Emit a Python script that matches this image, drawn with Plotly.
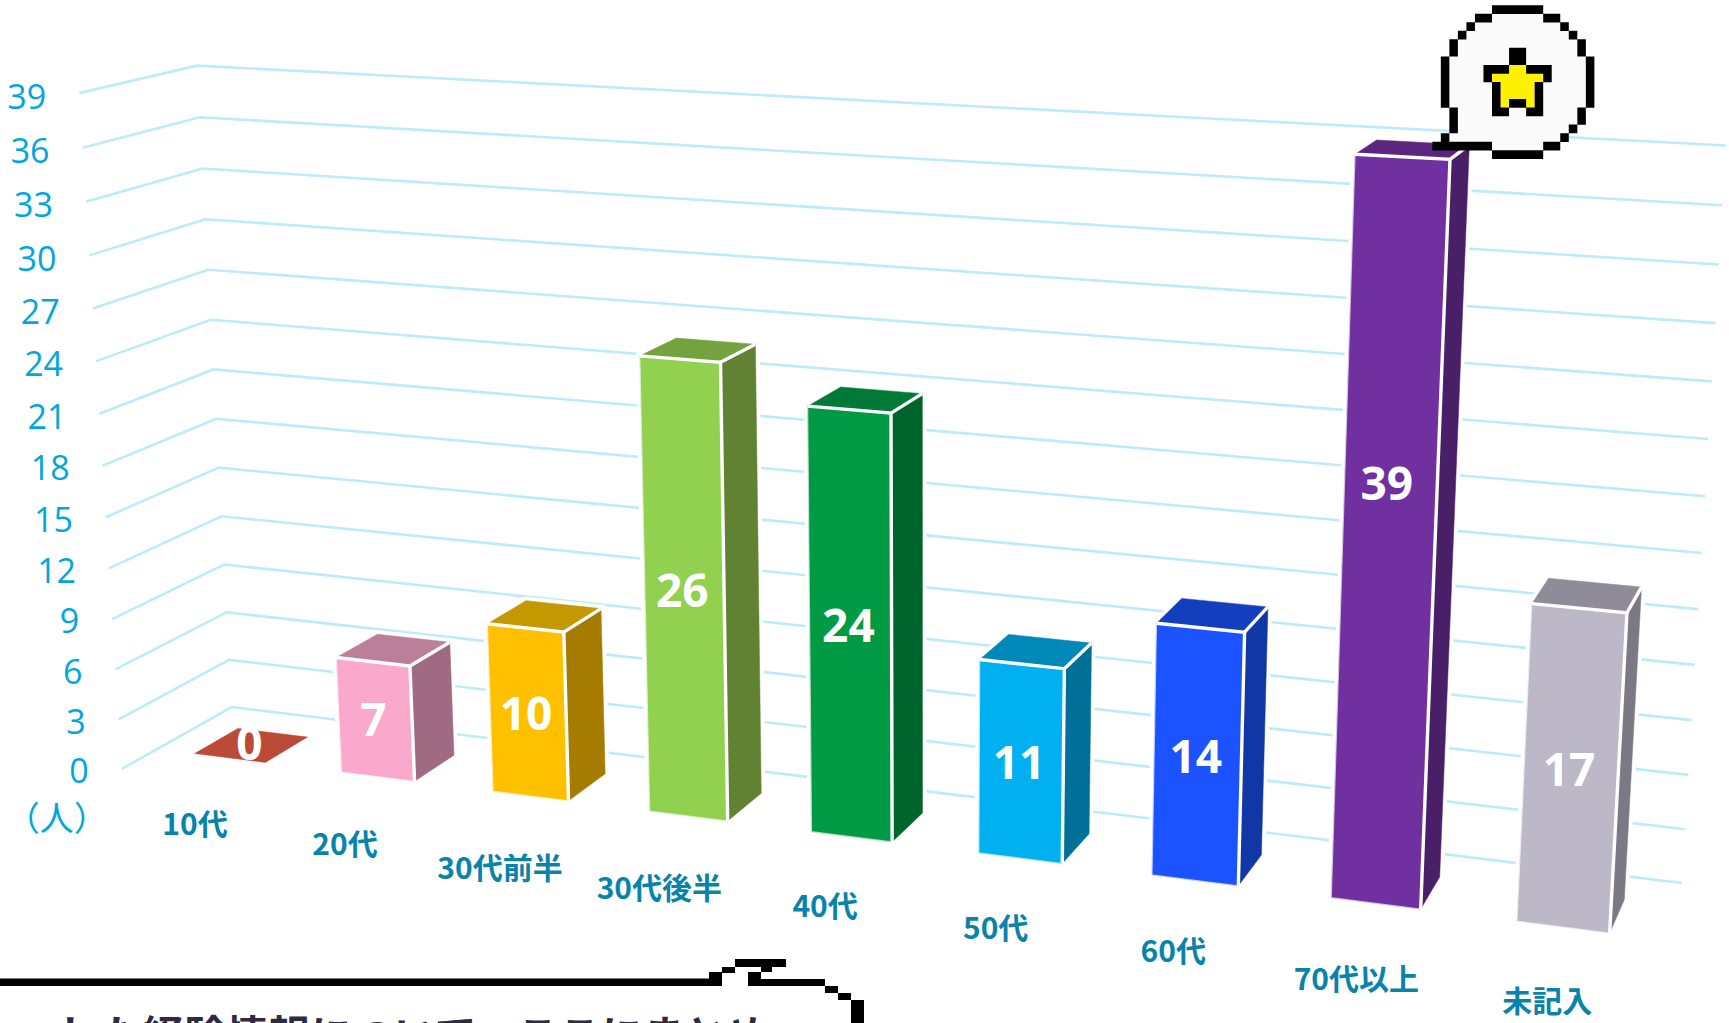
import plotly.graph_objects as go

# ---------- data ----------
categories = ["10代", "20代", "30代前半", "30代後半", "40代", "50代", "60代", "70代以上", "未記入"]
values = [0, 7, 10, 26, 24, 11, 14, 39, 17]
z_ticks = list(range(0, 40, 3))
unit_label = "（人）"
front_colors = ["#BC4A38", "#FAA8CB", "#FFC000", "#92D050", "#009A44", "#00B0F0", "#1A53FF", "#7030A0", "#BDB8C8"]
top_colors = ["#BC4A38", "#BB7F9A", "#C49800", "#74A23E", "#007A36", "#0088B8", "#133FBF", "#5A2680", "#908B98"]
side_colors = ["#BC4A38", "#A06B82", "#A67C00", "#608232", "#00652C", "#007099", "#1136A6", "#491F68", "#7C7884"]
label_shift = [3, 6, 7, 5, 5, 7, 7, -51, 6]
cat_shift_x = [0, 0, 0, -1, -1, -2, -2, -3, -3]
cat_shift_y = [49, 50, 53, 53, 49, 49, 49, 53, 50]
Z_MAX = 39

# ---------- perspective of the 3-D chart box (pixel space of the page) ----------
W, H = 1729, 1023
ORIGIN = (231.7, 707.0)      # back corner of the floor
VP_X = (-9013.0, -415.0)     # vanishing point of the category direction
VP_Y = (2198.0, -401.0)      # vanishing point of the depth direction
VP_Z = (926.4, 13548.0)      # vanishing point of the vertical direction
LX, LY, LZ = -0.1356, -0.05298, -0.04757
BAR_W = 0.486                # bar width as share of a category
Y_FRONT, Y_BACK = 0.685, 0.285
TOP_INSET = 0.12             # bars stop just under their value on the wall scale


def proj(x, y, z):
    """x, y: box fractions; z: value on the vertical axis."""
    a, b, c = LX * x, LY * y, LZ * z / Z_MAX
    w = 1 + a + b + c
    return ((ORIGIN[0] + a * VP_X[0] + b * VP_Y[0] + c * VP_Z[0]) / w,
            (ORIGIN[1] + a * VP_X[1] + b * VP_Y[1] + c * VP_Z[1]) / w)


def poly(points):
    pts = [proj(*p) for p in points]
    return [p[0] for p in pts], [p[1] for p in pts]


fig = go.Figure()


def face(pts, color):
    xs, ys = poly(pts + pts[:1])
    fig.add_trace(go.Scatter(x=xs, y=ys, mode="lines", fill="toself", fillcolor=color,
                             line=dict(width=0.5, color=color), hoverinfo="skip"))


def edge(pts, color="#FFFFFF", width=3.0):
    xs, ys = poly(pts)
    fig.add_trace(go.Scatter(x=xs, y=ys, mode="lines", line=dict(color=color, width=width),
                             hoverinfo="skip"))


# ---------- gridlines on the back and side walls ----------
for z in z_ticks:
    edge([(1, 0, z), (0, 0, z), (0, 1, z)], color="#BDEBFC", width=2.6)

# ---------- bars ----------
n = len(categories)
for i, value in enumerate(values):
    xc = (i + 0.5) / n
    x0, x1 = xc - BAR_W / n / 2, xc + BAR_W / n / 2
    yf, yb = Y_FRONT, Y_BACK
    if value == 0:
        face([(x0, yf, 0), (x1, yf, 0), (x1, yb, 0), (x0, yb, 0)], top_colors[i])
        continue
    v = value - TOP_INSET
    # white glow around the silhouette, hides the gridlines near the bar
    edge([(x0, yf, 0), (x1, yf, 0), (x1, yb, 0), (x1, yb, v), (x0, yb, v), (x0, yf, v), (x0, yf, 0)],
         width=8)
    face([(x1, yf, 0), (x1, yb, 0), (x1, yb, v), (x1, yf, v)], side_colors[i])
    face([(x0, yf, v), (x1, yf, v), (x1, yb, v), (x0, yb, v)], top_colors[i])
    face([(x0, yf, 0), (x1, yf, 0), (x1, yf, v), (x0, yf, v)], front_colors[i])
    edge([(x0, yf, v), (x1, yf, v), (x1, yf, 0)], width=3.4)
    edge([(x1, yf, v), (x1, yb, v)], width=3.4)
    edge([(x0, yf, v), (x0, yf, 0), (x1, yf, 0)], color="rgba(255,255,255,0.6)", width=1.2)

# ---------- value labels ----------
NUM_FONT = "Open Sans"
CJK_FONT = "Noto Sans CJK JP"
lx, ly = [], []
for i, v in enumerate(values):
    xc = (i + 0.5) / n
    px, py = proj(xc, (Y_FRONT if v else (Y_FRONT + Y_BACK) / 2), v / 2)
    lx.append(px - 2)
    ly.append(py + label_shift[i])
fig.add_trace(go.Scatter(x=lx, y=ly, mode="text", text=[str(v) for v in values],
                         textposition="middle center",
                         textfont=dict(family=NUM_FONT, size=46, color="#FFFFFF", weight="bold"),
                         hoverinfo="skip"))

# ---------- vertical axis labels ----------
tx, ty = [], []
for z in z_ticks:
    px, py = proj(0, 1, z)
    tx.append(px - 33)
    ty.append(py + 5.5 + 1.5 * z / Z_MAX)
fig.add_trace(go.Scatter(x=tx, y=ty, mode="text", text=[str(z) for z in z_ticks],
                         textposition="middle left",
                         textfont=dict(family=NUM_FONT, size=34, color="#00A7DE"),
                         hoverinfo="skip"))
ux, uy = proj(0, 1, 0)
fig.add_trace(go.Scatter(x=[ux - 65], y=[uy + 53.5], mode="text", text=[unit_label],
                         textposition="middle center",
                         textfont=dict(family=CJK_FONT, size=34, color="#00A7DE"),
                         hoverinfo="skip"))

# ---------- category labels ----------
cx, cy = [], []
for i in range(n):
    px, py = proj((i + 0.5) / n, 1, 0)
    cx.append(px + cat_shift_x[i])
    cy.append(py + cat_shift_y[i])
fig.add_trace(go.Scatter(x=cx, y=cy, mode="text", text=categories, textposition="middle center",
                         textfont=dict(family=CJK_FONT, size=30, color="#0A83AB", weight="bold"),
                         hoverinfo="skip"))

# ---------- pixel-art speech bubble with star ----------
bubble_rows = [
    ".......KKKKKK......",
    ".....KKWWWWWWKK....",
    "....KWWWWWWWWWWK...",
    "...KWWWWWWWWWWWWK..",
    "..KWWWWWWWWWWWWWWK.",
    "..KWWWWWWKKWWWWWWK.",
    ".KWWWWWWWKKWWWWWWWK",
    ".KWWWWKKKYYKKKWWWWK",
    ".KWWWWKYYYYYYKWWWWK",
    ".KWWWWWKYYYYKWWWWWK",
    ".KWWWWWKYYYYKWWWWWK",
    ".KWWWWWKYKKYKWWWWWK",
    "..KWWWWKKWWKKWWWWK.",
    "..KWWWWWWWWWWWWWWK.",
    "..KWWWWWWWWWWWWWK..",
    ".KWWWWWWWWWWWWWK...",
    "KKKKKKKWWWWWWKK....",
    ".......KKKKKK......",
]
BX, BY, CELL = 1432.3, 5.3, 8.53
for ch, col in (("W", "#FAFAFA"), ("Y", "#FFF000"), ("K", "#000000")):
    xs, ys = [], []
    for r, row in enumerate(bubble_rows):
        c = 0
        while c < len(row):
            if row[c] == ch:
                e = c
                while e + 1 < len(row) and row[e + 1] == ch:
                    e += 1
                x0, x1 = BX + c * CELL, BX + (e + 1) * CELL
                y0, y1 = BY + r * CELL - 0.1, BY + (r + 1) * CELL + 0.1
                xs += [x0, x1, x1, x0, x0, None]
                ys += [y0, y0, y1, y1, y0, None]
                c = e + 1
            else:
                c += 1
    fig.add_trace(go.Scatter(x=xs, y=ys, mode="lines", fill="toself", fillcolor=col,
                             line=dict(width=0), hoverinfo="skip"))

# ---------- pixel outline of the lower text balloon (cut by the page edge) ----------
balloon = [
    (0, 720, 978.5, 986), (709, 722, 972, 986), (722, 735, 967, 973), (735, 786, 959, 967),
    (761, 772, 967, 972), (748, 761, 972, 986), (761, 825, 979, 986), (825, 838, 986, 993),
    (838, 851, 993, 1000), (851, 864, 1000, 1023),
]
xs, ys = [], []
for x0, x1, y0, y1 in balloon:
    xs += [x0, x1, x1, x0, x0, None]
    ys += [y0, y0, y1, y1, y0, None]
fig.add_trace(go.Scatter(x=xs, y=ys, mode="lines", fill="toself", fillcolor="#000000",
                         line=dict(width=0), hoverinfo="skip"))
fig.add_trace(go.Scatter(x=[58], y=[1019], mode="text", text=["した経験情報について、ここにまとめ"],
                         textposition="bottom right",
                         textfont=dict(family=CJK_FONT, size=42, color="#2F2B3D", weight="bold"),
                         hoverinfo="skip"))

fig.update_layout(
    width=W, height=H, margin=dict(l=0, r=0, t=0, b=0), showlegend=False,
    paper_bgcolor="#FFFFFF", plot_bgcolor="#FFFFFF",
    xaxis=dict(range=[0, W], visible=False, fixedrange=True),
    yaxis=dict(range=[H, 0], visible=False, fixedrange=True),
)
fig.write_html("out.html", config=dict(displayModeBar=False),
               post_script="document.body.style.margin='0';document.body.style.overflow='hidden';")
